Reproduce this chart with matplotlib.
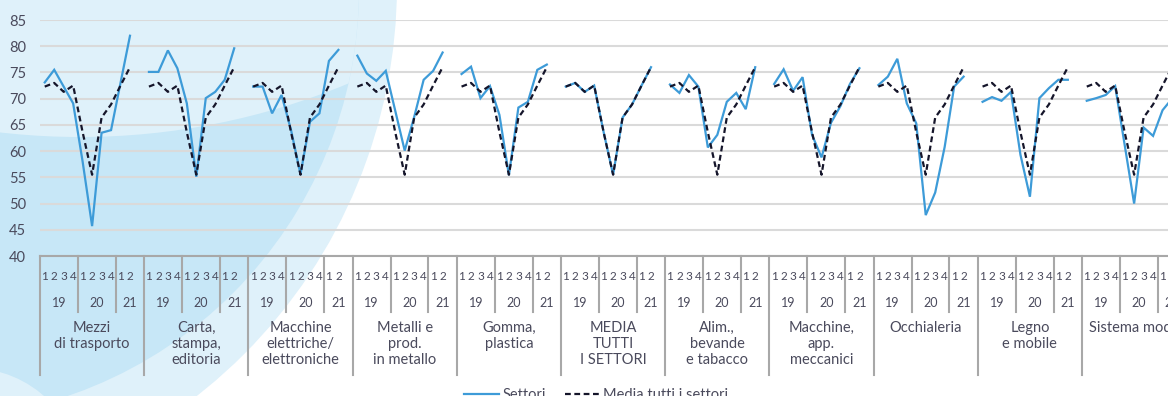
import matplotlib
matplotlib.use("Agg")
import matplotlib.pyplot as plt
from matplotlib.patches import Circle
from matplotlib.lines import Line2D
import numpy as np

plt.rcParams["font.family"] = ["Lato", "DejaVu Sans"]

# ---- data -------------------------------------------------------------
sectors = [
    "Mezzi\ndi trasporto",
    "Carta,\nstampa,\neditoria",
    "Macchine\nelettriche/\nelettroniche",
    "Metalli e\nprod.\nin metallo",
    "Gomma,\nplastica",
    "MEDIA\nTUTTI\nI SETTORI",
    "Alim.,\nbevande\ne tabacco",
    "Macchine,\napp.\nmeccanici",
    "Occhialeria",
    "Legno\ne mobile",
    "Sistema moda",
]
quarters = ["1", "2", "3", "4", "1", "2", "3", "4", "1", "2"]
years = ["19", "20", "21"]

media = [72.3, 73.0, 71.3, 72.5, 63.6, 55.5, 66.4, 68.9, 72.5, 76.0]
mezzi = [73.1, 75.5, 72.3, 69.1, 58.0, 45.7, 63.5, 64.0, 73.0, 82.0]
carta = [75.1, 75.1, 79.2, 75.8, 69.1, 55.1, 70.1, 71.3, 73.6, 79.6]
macch_el = [72.3, 72.3, 67.2, 70.7, 64.0, 55.6, 65.6, 67.2, 77.2, 79.3]
metalli = [78.2, 74.8, 73.4, 75.3, 67.7, 60.1, 66.5, 73.6, 75.3, 78.8]
gomma = [74.7, 76.1, 70.1, 72.4, 66.9, 55.4, 68.3, 69.4, 75.5, 76.5]
alim = [72.7, 71.1, 74.5, 72.3, 60.7, 63.1, 69.4, 71.1, 68.0, 76.0]
macch_mecc = [72.8, 75.6, 71.5, 74.1, 63.1, 58.8, 65.4, 68.6, 72.8, 75.8]
occhiali = [72.6, 74.2, 77.6, 69.1, 65.3, 47.8, 52.1, 60.8, 72.3, 74.2]
legno = [69.4, 70.3, 69.6, 71.3, 59.3, 51.3, 70.1, 72.0, 73.6, 73.6]
moda = [69.6, 70.1, 70.7, 72.4, 61.2, 50.0, 64.5, 62.9, 67.8, 70.0]

settori = [mezzi, carta, macch_el, metalli, gomma, media,
           alim, macch_mecc, occhiali, legno, moda]

# ---- style ------------------------------------------------------------
BLUE = "#3d9bd8"
NAVY = "#15152a"
GRID = "#dadada"
RULE = "#a8a8a8"
TXT = "#4a4a5c"
LIGHT = "#dff1fa"
MID = "#c7e7f7"

W, H = 1168, 396
fig = plt.figure(figsize=(W / 100, H / 100), dpi=100)
fig.patch.set_facecolor("white")

# decorative background arcs, in pixel units
bg = fig.add_axes([0, 0, 1, 1], zorder=0)
bg.set_xlim(0, W)
bg.set_ylim(H, 0)
bg.axis("off")
bg.add_patch(Circle((-125, -15), 522, color=LIGHT, lw=0))
mid = Circle((-71, -11), 430, color=MID, lw=0)
bg.add_patch(mid)
cap = Circle((80, -563), 700, color=LIGHT, lw=0)
bg.add_patch(cap)
cap.set_clip_path(mid)
foot = Circle((-30, 480), 112, color=LIGHT, lw=0)
bg.add_patch(foot)
foot.set_clip_path(mid)

# main plotting area
n_groups = len(sectors)
slots = len(quarters) + 1
x_left, x_right = 40, 40 + n_groups * slots * 9.473
y_top, y_bot = 20, 256
ax = fig.add_axes([x_left / W, (H - y_bot) / H,
                   (x_right - x_left) / W, (y_bot - y_top) / H], zorder=1)
ax.patch.set_alpha(0)
ax.set_xlim(0, n_groups * slots)
ax.set_ylim(40, 85)
ax.set_yticks(np.arange(40, 86, 5))
ax.yaxis.grid(True, color=GRID, lw=1.5)
ax.set_axisbelow(True)
ax.set_xticks([])
for s in ("left", "right", "top"):
    ax.spines[s].set_visible(False)
ax.spines["bottom"].set_color(RULE)
ax.spines["bottom"].set_linewidth(1.5)
ax.tick_params(axis="y", length=0, pad=10, labelsize=10.5, labelcolor=TXT)

for g, vals in enumerate(settori):
    xs = g * slots + np.arange(len(vals)) + 0.5
    ax.plot(xs, vals, color=BLUE, lw=1.6, solid_joinstyle="miter", zorder=3)
    ax.plot(xs, media, color=NAVY, lw=1.6, ls=(0, (2.6, 1.6)), zorder=4)


def fy(ypix):
    # pixel row -> axes fraction
    return (y_bot - ypix) / (y_bot - y_top)


trans = ax.get_xaxis_transform()
for g in range(n_groups + 1):
    x0 = g * slots
    ax.plot([x0, x0], [0, fy(375)], transform=trans, color=RULE, lw=1.5,
            clip_on=False, zorder=2)
    if g == n_groups:
        break
    for b in (4, 8):
        ax.plot([x0 + b, x0 + b], [0, fy(312)], transform=trans, color=RULE,
                lw=1.5, clip_on=False, zorder=2)
    for i, q in enumerate(quarters):
        ax.text(x0 + i + 0.5, fy(276), q, transform=trans, ha="center",
                va="center", fontsize=8.5, color=TXT, clip_on=False)
    for (a, b), yl in zip([(0, 4), (4, 8), (8, 11)], years):
        ax.text(x0 + (a + b) / 2, fy(303), yl, transform=trans, ha="center",
                va="center", fontsize=9, color=TXT, clip_on=False)
    ax.text(x0 + slots / 2, fy(321), sectors[g], transform=trans,
            ha="center", va="top", fontsize=10.5, color=TXT,
            linespacing=1.2, clip_on=False)

handles = [Line2D([], [], color=BLUE, lw=1.6),
           Line2D([], [], color=NAVY, lw=1.6, ls=(0, (2.6, 1.6)))]
fig.legend(handles, ["Settori", "Media tutti i settori"], loc="center",
           bbox_to_anchor=(596 / W, (H - 395) / H), ncol=2, frameon=False,
           fontsize=10.5, handlelength=2.4, handletextpad=0.25,
           columnspacing=1.3, labelcolor=TXT)

fig.savefig("out.png", dpi=100)
